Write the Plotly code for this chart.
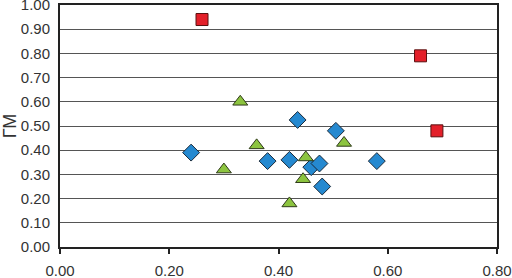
import plotly.graph_objects as go

blue_x = [0.24, 0.38, 0.42, 0.46, 0.475, 0.48, 0.58, 0.435, 0.505]
blue_y = [0.39, 0.355, 0.36, 0.33, 0.345, 0.25, 0.355, 0.525, 0.48]

green_x = [0.33, 0.30, 0.36, 0.45, 0.52, 0.445, 0.42]
green_y = [0.60, 0.32, 0.42, 0.37, 0.43, 0.28, 0.18]

red_x = [0.26, 0.66, 0.69]
red_y = [0.94, 0.79, 0.48]

x_ticks = [0.0, 0.2, 0.4, 0.6, 0.8]
y_ticks = [0.0, 0.1, 0.2, 0.3, 0.4, 0.5, 0.6, 0.7, 0.8, 0.9, 1.0]

fig = go.Figure()
fig.add_trace(go.Scatter(x=blue_x, y=blue_y, mode="markers", cliponaxis=False,
                         marker=dict(symbol="diamond", size=13, color="#2589D0",
                                     line=dict(color="#1a2a3a", width=1))))
fig.add_trace(go.Scatter(x=green_x, y=green_y, mode="markers", cliponaxis=False,
                         marker=dict(symbol="triangle-up", size=13, color="#8CC43F",
                                     line=dict(color="#2f3a1a", width=1))))
fig.add_trace(go.Scatter(x=red_x, y=red_y, mode="markers", cliponaxis=False,
                         marker=dict(symbol="square", size=12, color="#E3202A",
                                     line=dict(color="#5a1010", width=1))))

fig.update_layout(
    width=512, height=278,
    margin=dict(l=60, r=15, t=5, b=31, autoexpand=False),
    plot_bgcolor="white", paper_bgcolor="white",
    showlegend=False,
    font=dict(family="Liberation Sans, Arial, sans-serif", size=15, color="#333333"),
)
fig.update_xaxes(range=[0, 0.8], tickvals=x_ticks, tickformat=".2f",
                 showgrid=False, zeroline=False, automargin=False,
                 ticklabeloverflow="allow",
                 showline=True, linecolor="#222222", linewidth=2, mirror=True,
                 ticks="outside", ticklen=5, tickcolor="#222222", tickwidth=1.5,
                 ticklabelstandoff=4)
fig.update_yaxes(range=[0, 1.0], tickvals=y_ticks, tickformat=".2f",
                 showgrid=True, gridcolor="#555555", gridwidth=1, zeroline=False,
                 automargin=False, ticklabeloverflow="allow",
                 showline=True, linecolor="#222222", linewidth=2, mirror=True,
                 ticks="", ticklabelstandoff=5,
                 title=dict(text="ГМ", font=dict(size=18, color="#333333"), standoff=4))

fig.write_html("out.html", config={"displayModeBar": False},
               post_script="document.body.style.margin='0';document.body.style.overflow='hidden';")
